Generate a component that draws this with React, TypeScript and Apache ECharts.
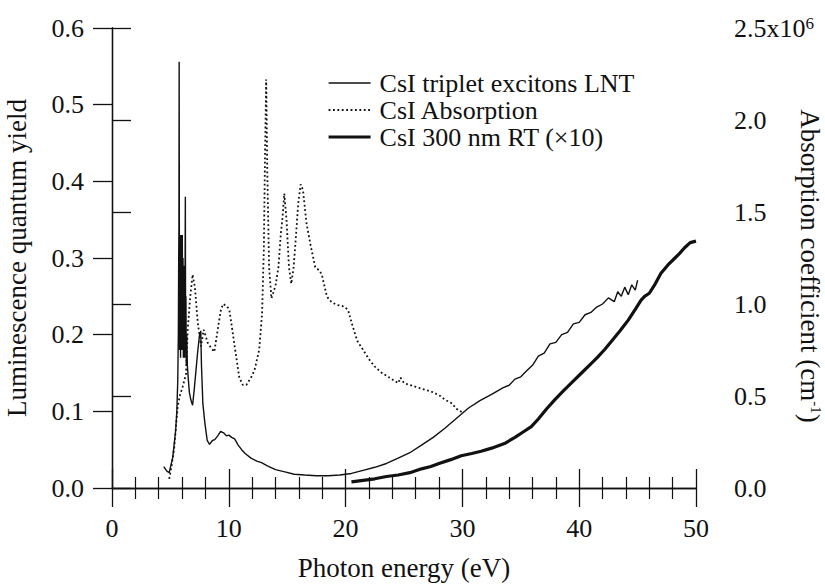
import React, { useEffect, useRef } from "react";
import * as echarts from "echarts";

// ---- data ----
const tripletE = [4.43, 4.7, 4.9, 5.2, 5.45, 5.55, 5.63, 5.68, 5.71, 5.73, 5.75, 5.77, 5.79, 5.81, 5.83, 5.85, 5.87, 5.9, 5.93, 5.96, 5.99, 6.02, 6.05, 6.08, 6.11, 6.14, 6.17, 6.2, 6.23, 6.26, 6.28, 6.3, 6.33, 6.36, 6.4, 6.45, 6.52, 6.62, 6.75, 6.9, 7.05, 7.2, 7.35, 7.5, 7.6, 7.66, 7.78, 7.95, 8.15, 8.35, 8.6, 8.8, 9.05, 9.3, 9.55, 9.8, 10.0, 10.25, 10.5, 10.8, 11.1, 11.4, 11.9, 12.4, 12.8, 13.3, 14.0, 14.8, 15.6, 16.5, 17.5, 18.5, 19.5, 20.5, 21.5, 22.5, 23.5, 24.5, 25.5, 26.5, 27.5, 28.5, 29.5, 30.5, 31.5, 32.5, 33.5, 34.0, 34.5, 35.0, 35.5, 36.0, 36.5, 37.0, 37.5, 38.0, 38.5, 39.0, 39.5, 40.0, 40.5, 41.0, 41.5, 42.0, 42.5, 43.0, 43.3, 43.6, 43.9, 44.2, 44.5, 44.8, 45.0];
const tripletY = [0.028, 0.022, 0.02, 0.04, 0.075, 0.1, 0.14, 0.2, 0.3, 0.34, 0.556, 0.3, 0.18, 0.33, 0.2, 0.31, 0.17, 0.33, 0.22, 0.32, 0.18, 0.33, 0.2, 0.3, 0.17, 0.29, 0.19, 0.28, 0.17, 0.3, 0.38, 0.2, 0.25, 0.16, 0.2, 0.16, 0.145, 0.125, 0.115, 0.108, 0.13, 0.155, 0.18, 0.2, 0.205, 0.16, 0.11, 0.085, 0.062, 0.057, 0.062, 0.063, 0.068, 0.074, 0.072, 0.068, 0.069, 0.066, 0.064, 0.056, 0.05, 0.045, 0.039, 0.035, 0.033, 0.029, 0.024, 0.021, 0.018, 0.017, 0.016, 0.016, 0.017, 0.019, 0.023, 0.027, 0.032, 0.039, 0.046, 0.056, 0.066, 0.078, 0.091, 0.104, 0.114, 0.122, 0.131, 0.134, 0.142, 0.145, 0.153, 0.16, 0.172, 0.176, 0.188, 0.19, 0.2, 0.203, 0.214, 0.216, 0.226, 0.229, 0.236, 0.24, 0.248, 0.243, 0.256, 0.25, 0.262, 0.252, 0.265, 0.258, 0.271];

const absE = [4.9, 5.1, 5.33, 5.5, 5.62, 5.8, 6.05, 6.34, 6.48, 6.7, 6.9, 7.1, 7.34, 7.62, 7.85, 8.19, 8.5, 8.76, 9.05, 9.3, 9.5, 9.8, 10.04, 10.3, 10.5, 10.9, 11.2, 11.5, 11.9, 12.2, 12.6, 12.85, 13.0, 13.1, 13.2, 13.3, 13.45, 13.65, 14.0, 14.25, 14.45, 14.6, 14.75, 14.95, 15.15, 15.35, 15.55, 15.75, 15.95, 16.15, 16.35, 16.65, 17.0, 17.4, 17.8, 18.0, 18.4, 18.8, 19.25, 19.7, 20.2, 20.6, 21.0, 21.5, 22.0, 22.5, 23.0, 23.5, 24.0, 24.5, 24.7, 25.0, 25.5, 26.0, 26.5, 27.0, 27.5, 28.1, 28.5, 29.1, 29.5, 30.0];
const absY = [0.05, 0.12, 0.22, 0.35, 0.44, 0.5, 0.55, 0.62, 0.86, 1.04, 1.16, 1.09, 0.9, 0.77, 0.86, 0.79, 0.76, 0.74, 0.86, 0.96, 1.0, 0.99, 0.97, 0.86, 0.77, 0.6, 0.56, 0.56, 0.6, 0.64, 0.75, 0.95, 1.3, 1.8, 2.22, 1.7, 1.2, 1.03, 1.1, 1.2, 1.38, 1.47, 1.6, 1.45, 1.2, 1.11, 1.2, 1.37, 1.55, 1.65, 1.62, 1.44, 1.32, 1.2, 1.18, 1.15, 1.04, 1.01, 0.995, 0.99, 0.97, 0.88, 0.8, 0.75, 0.7, 0.66, 0.63, 0.61, 0.59, 0.57, 0.6, 0.57, 0.56, 0.55, 0.54, 0.53, 0.52, 0.5, 0.48, 0.46, 0.43, 0.41];

const rtE = [20.5, 21.5, 22.5, 23.5, 24.5, 25.5, 26.5, 27.3, 28.0, 29.0, 29.9, 30.8, 31.6, 32.5, 33.6, 34.5, 35.2, 35.9, 36.5, 37.2, 37.9, 38.6, 39.4, 40.2, 41.0, 41.6, 42.2, 42.8, 43.5, 44.2, 44.8, 45.3, 45.6, 46.0, 46.5, 47.0, 47.6, 48.2, 48.6, 49.0, 49.5, 50.0];
const rtY = [0.008, 0.01, 0.012, 0.015, 0.017, 0.02, 0.025, 0.028, 0.032, 0.037, 0.042, 0.045, 0.048, 0.052, 0.058, 0.066, 0.073, 0.08, 0.09, 0.103, 0.115, 0.126, 0.138, 0.15, 0.162, 0.171, 0.181, 0.192, 0.205, 0.219, 0.233, 0.245, 0.25, 0.254, 0.266, 0.28, 0.291, 0.3, 0.306, 0.313, 0.32, 0.322];

const seriesNames = ["CsI triplet excitons LNT", "CsI Absorption", "CsI 300 nm RT (\u00d710)"];
const leftTicks = ["0.0", "0.1", "0.2", "0.3", "0.4", "0.5", "0.6"];
const rightTicks = ["0.0", "0.5", "1.0", "1.5", "2.0", "2.5x10{s|6}"];
const rightTitle = "Absorption coefficient (cm{s|-1})";

const zip = (xs: number[], ys: number[]) => xs.map((x, i) => [x, ys[i]]);

const FONT = "'Liberation Serif', 'Times New Roman', serif";
const INK = "#111";

export default function App() {
  const ref = useRef<HTMLDivElement>(null);
  useEffect(() => {
    if (!ref.current) return;
    const chart = echarts.init(ref.current, null, { renderer: "svg" });
    const axisLine = { show: true, lineStyle: { color: INK, width: 1.3 } };
    const xCommon = {
      type: "value" as const,
      min: 0,
      max: 50,
      interval: 10,
      axisLine,
      axisTick: { show: true, inside: false, length: 19, lineStyle: { color: INK, width: 1.3 } },
      minorTick: { show: true, splitNumber: 5, length: 11, lineStyle: { color: INK, width: 1.2 } },
      splitLine: { show: false },
      minorSplitLine: { show: false },
    };
    chart.setOption({
      animation: false,
      backgroundColor: "#fff",
      grid: { left: 112, right: 129, top: 28, bottom: 99, containLabel: false, outerBoundsMode: "none" },
      legend: {
        orient: "vertical",
        left: 322,
        top: 65,
        itemWidth: 42,
        itemHeight: 14,
        itemGap: 1,
        data: seriesNames,
        itemStyle: { opacity: 0 },
        lineStyle: { width: "inherit", type: "inherit", color: "inherit" },
        textStyle: { fontFamily: FONT, fontSize: 26, color: INK, padding: [0, 0, 0, 4] },
      },
      graphic: [
        {
          type: "text",
          x: 810,
          y: 266,
          rotation: -Math.PI / 2,
          style: {
            text: rightTitle,
            fontFamily: FONT,
            fontSize: 27,
            fill: INK,
            align: "center",
            verticalAlign: "middle",
            rich: { s: { fontFamily: FONT, fontSize: 15, fill: INK, verticalAlign: "top", lineHeight: 27 } },
          },
        },
      ],
      xAxis: [
        {
          ...xCommon,
          position: "bottom",
          axisLabel: { fontFamily: FONT, fontSize: 26, color: INK, margin: 27 },
          name: "Photon energy (eV)",
          nameLocation: "middle",
          nameGap: 66,
          nameTextStyle: { fontFamily: FONT, fontSize: 27, color: INK },
        },
        {
          ...xCommon,
          position: "top",
          axisLabel: { show: false },
        },
      ],
      yAxis: [
        {
          type: "value",
          position: "left",
          min: 0,
          max: 0.6,
          interval: 0.1,
          axisLine,
          axisTick: { show: true, inside: false, length: 19, lineStyle: { color: INK, width: 1.3 } },
          splitLine: { show: false },
          axisLabel: {
            fontFamily: FONT,
            fontSize: 26,
            color: INK,
            margin: 28,
            formatter: (v: number) => leftTicks[Math.round(v * 10)] ?? "",
          },
          name: "Luminescence quantum yield",
          nameLocation: "middle",
          nameGap: 82,
          nameRotate: 90,
          nameTextStyle: { fontFamily: FONT, fontSize: 27, color: INK },
        },
        {
          type: "value",
          position: "right",
          min: 0,
          max: 2.5,
          interval: 0.5,
          axisLine,
          axisTick: { show: true, inside: false, length: 19, lineStyle: { color: INK, width: 1.3 } },
          splitLine: { show: false },
          axisLabel: {
            fontFamily: FONT,
            fontSize: 26,
            color: INK,
            margin: 38,
            formatter: (v: number) => rightTicks[Math.round(v * 2)] ?? "",
            rich: {
              s: { fontFamily: FONT, fontSize: 17, color: INK, verticalAlign: "top", lineHeight: 26 },
            },
          },
        },
      ],
      series: [
        {
          name: seriesNames[0],
          type: "line",
          xAxisIndex: 0,
          yAxisIndex: 0,
          data: zip(tripletE, tripletY),
          symbol: "none",
          showSymbol: false,
          lineStyle: { color: INK, width: 1.4 },
          itemStyle: { color: INK },
        },
        {
          name: seriesNames[1],
          type: "line",
          xAxisIndex: 0,
          yAxisIndex: 1,
          data: zip(absE, absY),
          symbol: "none",
          showSymbol: false,
          lineStyle: { color: INK, width: 1.8, type: [1.8, 2.6] },
          itemStyle: { color: INK },
        },
        {
          name: seriesNames[2],
          type: "line",
          xAxisIndex: 0,
          yAxisIndex: 0,
          data: zip(rtE, rtY),
          symbol: "none",
          showSymbol: false,
          lineStyle: { color: INK, width: 3.2 },
          itemStyle: { color: INK },
        },
      ],
    });
    return () => chart.dispose();
  }, []);
  return <div ref={ref} style={{ position: "fixed", left: 0, top: 0, width: 825, height: 587, background: "#fff" }} />;
}
